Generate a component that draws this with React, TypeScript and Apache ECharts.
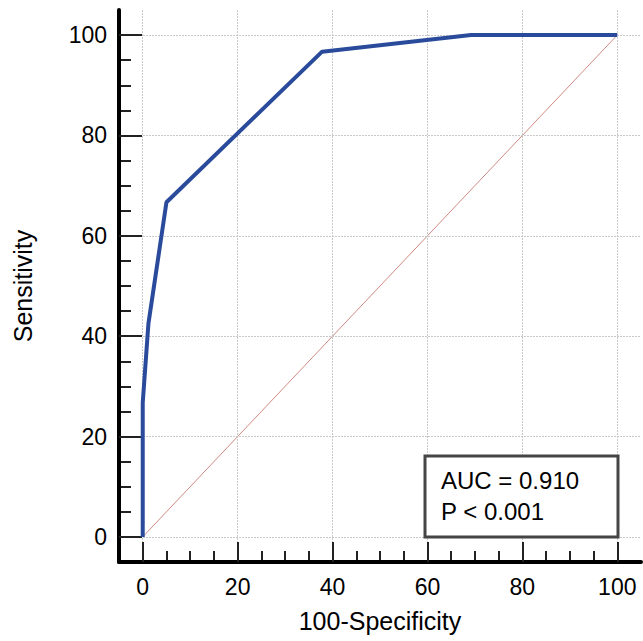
import React, { useEffect, useRef } from "react";
import * as echarts from "echarts";

const rocX = [0, 0, 1.2, 5, 37.8, 69.2, 100];
const rocY = [0, 26.7, 42.5, 66.7, 96.7, 100, 100];
const refX = [0, 100];
const refY = [0, 100];
const majorTicks = [0, 20, 40, 60, 80, 100];
const minorTicks = [5, 10, 15, 25, 30, 35, 45, 50, 55, 65, 70, 75, 85, 90, 95];
const xTitle = "100-Specificity";
const yTitle = "Sensitivity";
const boxLines = ["AUC = 0.910", "P < 0.001"];

const FONT = "'Liberation Sans', Arial, sans-serif";

export default function App() {
  const ref = useRef<HTMLDivElement>(null);
  useEffect(() => {
    if (!ref.current) return;
    const chart = echarts.init(ref.current, null, { renderer: "svg" });
    const axisCommon = (isX: boolean, major: boolean) => ({
      type: "value",
      position: isX ? "bottom" : "left",
      min: -5,
      max: 105,
      axisLine: major
        ? { show: true, onZero: false, lineStyle: { color: "#000", width: 4 } }
        : { show: false, onZero: false },
      axisTick: {
        show: true,
        inside: true,
        interval: 0,
        customValues: major ? majorTicks : minorTicks,
        length: major ? (isX ? 20 : 23) : (isX ? 11 : 12),
        lineStyle: { color: "#222", width: 2 },
      },
      axisLabel: major
        ? {
            show: true,
            customValues: majorTicks,
            margin: isX ? 13 : 12,
            fontSize: 23,
            fontFamily: FONT,
            color: "#000",
          }
        : { show: false },
      splitLine: major
        ? { show: true, lineStyle: { color: "#c9c9c9", width: 1, type: [2, 1] } }
        : { show: false },
      name: major ? (isX ? xTitle : yTitle) : "",
      nameLocation: "middle",
      nameGap: isX ? 46 : 84,
      nameTextStyle: { fontSize: 25, fontFamily: FONT, color: "#000" },
      z: major ? 3 : 2,
    });
    const option: any = {
      animation: false,
      backgroundColor: "#fff",
      grid: { left: 119, right: 2, top: 10, bottom: 79, containLabel: false },
      xAxis: [axisCommon(true, true), axisCommon(true, false)],
      yAxis: [axisCommon(false, true), axisCommon(false, false)],
      series: [
        {
          type: "line",
          data: refX.map((x, i) => [x, refY[i]]),
          symbol: "none",
          lineStyle: { color: "#d08a80", width: 1 },
          z: 2,
        },
        {
          type: "line",
          data: rocX.map((x, i) => [x, rocY[i]]),
          symbol: "none",
          lineStyle: { color: "#2a4b9b", width: 4 },
          z: 3,
        },
      ],
      graphic: [
        {
          type: "rect",
          shape: { x: 425, y: 456, width: 193, height: 81 },
          style: { fill: "#fff", stroke: "#454545", lineWidth: 3 },
          z: 10,
        },
        {
          type: "text",
          x: 441,
          y: 480,
          style: {
            text: boxLines[0],
            fontSize: 24,
            fontFamily: FONT,
            fill: "#000",
            verticalAlign: "middle",
          },
          z: 11,
        },
        {
          type: "text",
          x: 441,
          y: 511,
          style: {
            text: boxLines[1],
            fontSize: 24,
            fontFamily: FONT,
            fill: "#000",
            verticalAlign: "middle",
          },
          z: 11,
        },
      ],
    };
    chart.setOption(option);
    return () => chart.dispose();
  }, []);
  return <div ref={ref} style={{ width: 643, height: 641, position: "absolute", left: 0, top: 0 }} />;
}
